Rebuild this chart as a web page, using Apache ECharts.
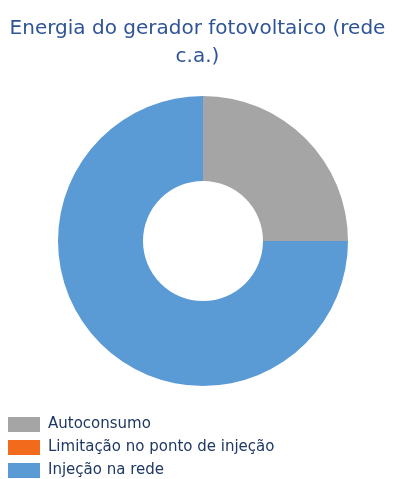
<!DOCTYPE html>
<html>
<head>
<meta charset="utf-8">
<script src="https://cdn.jsdelivr.net/npm/echarts@6/dist/echarts.min.js"></script>
<style>
  html, body { margin: 0; padding: 0; background: #fff; }
  #chart { width: 395px; height: 479px; }
</style>
</head>
<body>
<div id="chart"></div>
<script>
// Energy split of the PV generator (AC side)
const categories = ['Autoconsumo', 'Limitação no ponto de injeção', 'Injeção na rede'];
const values = [25, 0, 75];
const colors = ['#a5a5a5', '#f26b1d', '#5b9bd5'];

const chart = echarts.init(document.getElementById('chart'), null, { renderer: 'canvas' });

chart.setOption({
  animation: false,
  title: {
    text: 'Energia do gerador fotovoltaico (rede\nc.a.)',
    left: 'center',
    top: 15,
    padding: [0, 0, 0, 6],
    textStyle: {
      fontFamily: 'DejaVu Sans',
      fontSize: 20,
      fontWeight: 'normal',
      color: '#2f5496',
      lineHeight: 28
    }
  },
  legend: {
    orient: 'vertical',
    left: 8,
    top: 417,
    padding: 0,
    itemWidth: 32,
    itemHeight: 15,
    itemGap: 8,
    icon: 'rect',
    data: categories,
    textStyle: {
      fontFamily: 'DejaVu Sans',
      fontSize: 15,
      lineHeight: 15,
      color: '#1f3864',
      padding: [0, 0, 0, 3]
    }
  },
  series: [{
    type: 'pie',
    center: [203, 241],
    radius: [60, 145],
    startAngle: 90,
    clockwise: true,
    avoidLabelOverlap: false,
    label: { show: false },
    labelLine: { show: false },
    itemStyle: { borderWidth: 0 },
    emphasis: { disabled: true },
    data: categories.map((name, i) => ({
      name,
      value: values[i],
      itemStyle: { color: colors[i] }
    }))
  }]
});
</script>
</body>
</html>
